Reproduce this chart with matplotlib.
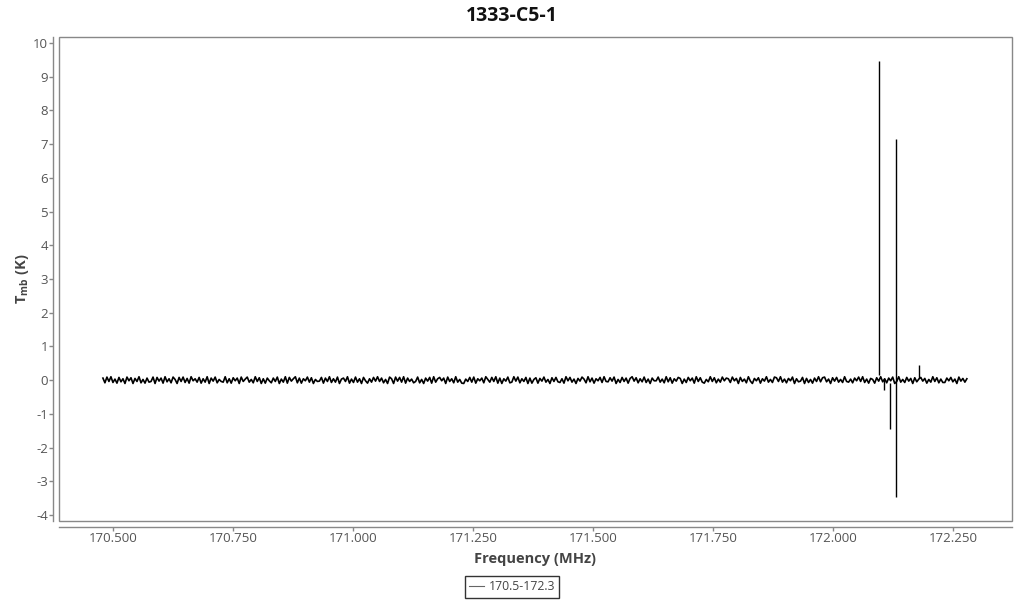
import numpy as np
import matplotlib
matplotlib.use("Agg")
import matplotlib.pyplot as plt
from matplotlib.patches import Rectangle

plt.rcParams["font.family"] = ["Open Sans", "DejaVu Sans"]
plt.rcParams["axes.unicode_minus"] = False

title = "1333-C5-1"
series_name = "170.5-172.3"
freq_start = 170.479
freq_stop = 172.279

# baseline noise, in units of 0.01 K
noise = [
    6, -8, 9, -4, 10, -7, 3, -9, 8, -5, 4, -10,
    9, -2, 7, -10, 5, -4, 10, -8, 2, -9, 6, -6,
    -4, 9, -10, 8, -3, 6, -9, 10, -5, 4, -8, 9,
    2, -10, 8, -4, 9, -7, 5, -9, 10, -2, 4, -6,
    8, -9, 4, -6, 10, -10, 6, -3, 9, -8, 2, -4,
    -6, 10, -8, 4, -9, 7, -2, 6, -10, 9, -4, 3,
    9, -6, 2, -8, 10, -4, 7, -10, 4, -9, 6, -2,
    -8, 6, -4, 9, -10, 3, -6, 10, -9, 8, -3, 4,
    10, -8, 6, -9, 4, -2, 9, -6, 7, -10, 2, -4,
    -3, 8, -9, 6, -4, 10, -7, 4, -6, 9, -10, 3,
    6, -4, 10, -9, 3, -7, 9, -6, 4, -10, 8, -2,
    -9, 4, -6, 8, -3, 10, -4, 6, -8, 2, -10, 9,
    4, -10, 9, -3, 8, -6, 10, -9, 6, -4, 3, -8,
    -4, 9, -8, 2, -10, 6, -3, 8, -9, 10, -6, 4,
    8, -2, 6, -10, 9, -4, 4, -8, 10, -6, 2, -9,
    -10, 3, -4, 8, -6, 9, -9, 4, -2, 6, -8, 10,
    2, -6, 8, -4, 10, -9, 6, -10, 4, -3, 9, -8,
    -6, 10, -3, 9, -8, 4, -4, 8, -10, 6, -9, 2,
    7, -9, 5, -3, 9, -6, 2, -10, 7, -4, 8, -5,
    -7, 4, -9, 10, -2, 8, -6, 3, -10, 5, -3, 9,
    3, -8, 10, -5, 6, -9, 4, -2, 8, -7, 10, -4,
    -5, 7, -3, 9, -10, 2, -7, 8, -4, 6, -9, 5,
    10, -3, 7, -8, 4, -5, 9, -7, 3, -10, 6, -2,
    -2, 9, -6, 3, -8, 10, -5, 7, -9, 4, -3, 8,
    5, -10, 3, -7, 8, -2, 6, -9, 10, -4, 7, -6,
    -9, 2, -5, 10, -4, 7, -8, 3, -6, 9, -2, 6,
    4, -7, 9, -2, 5, -10, 8, -4, 3, -8, 10, -3,
    -10, 5, -2, 7, -9, 4, -3, 10, -6, 2, -7, 9,
    7, -4, 10, -6, 3, -8, 5, -2, 9, -10, 4, -5,
    -3, 8, -10, 5, -7, 2, -9, 6, -4, 10, -5, 7,
    9, -5, 3, -10, 7, -3, 8, -6, 2, -7, 10, -4,
    -6, 3, -8, 6, -2, 9, -4, 10, -7, 3, -9, 5,
    2, -9, 7, -3, 10, -5, 4, -8, 6, -2, 9, -10,
    -4, 10, -6, 2, -7, 8, -3, 5, -10, 7, -5, 3,
    8, -3, 5, -9, 2, -6, 10, -4, 7, -8, 3, -7,
    -7, 6, -2, 8, -5, 3, -10, 9, -3, 5, -6, 4,
]

# narrow features (MHz, K)
spike_freq = [172.096, 172.106, 172.119, 172.131, 172.179]
spike_low = [0.15, -0.30, -1.45, -3.46, 0.05]
spike_high = [9.48, 0.02, -0.10, 7.15, 0.45]

xticks = [170.5, 170.75, 171.0, 171.25, 171.5, 171.75, 172.0, 172.25]
yticks = list(range(-4, 11))

freq = np.linspace(freq_start, freq_stop, len(noise))
tmb = np.array(noise) / 100.0

fig = plt.figure(figsize=(10.24, 6), dpi=100)
ax = fig.add_axes([59 / 1024, 1 - 521 / 600, 953 / 1024, 484 / 600])

line, = ax.plot(freq, tmb, color="black", lw=1.2, label=series_name)
ax.vlines(spike_freq, spike_low, spike_high, color="black", lw=1.0)

ax.set_xlim(170.3875, 172.373)
ax.set_ylim(-4.18, 10.18)
ax.set_xticks(xticks)
ax.set_xticklabels([f"{t:.3f}" for t in xticks])
ax.set_yticks(yticks)

grey = "#888888"
for s in ["top", "right"]:
    ax.spines[s].set_visible(False)
for s in ["left", "bottom"]:
    ax.spines[s].set_position(("outward", 4))
    ax.spines[s].set_color(grey)
    ax.spines[s].set_linewidth(1.0)
ax.add_patch(Rectangle((0, 0), 1, 1, transform=ax.transAxes, fill=False,
                       edgecolor=grey, lw=1.0, clip_on=False))

ax.tick_params(axis="both", colors=grey, labelcolor="#555555",
               labelsize=9.5, length=3, width=1, pad=1)

fig.suptitle(title, x=0.5, y=0.973, va="center", fontsize=14,
             fontweight="bold", color="#111111")
ax.set_xlabel("Frequency (MHz)", fontsize=10.5, fontweight="bold",
              color="#444444", labelpad=5)
ax.set_ylabel(r"T$_\mathregular{mb}$ (K)", fontsize=10.5, fontweight="bold",
              color="#444444", labelpad=1)

leg = fig.legend(handles=[line], loc="center",
                 bbox_to_anchor=(0.5, 1 - 587 / 600), frameon=True,
                 fancybox=False, fontsize=8.8, handlelength=1.2,
                 handletextpad=0.4, borderpad=0.35, labelcolor="#444444")
leg.get_frame().set_edgecolor("black")
leg.get_frame().set_linewidth(1.0)
leg.get_lines()[0].set_linewidth(0.8)
leg.get_lines()[0].set_color("#666666")

fig.savefig("out.png", dpi=100)
